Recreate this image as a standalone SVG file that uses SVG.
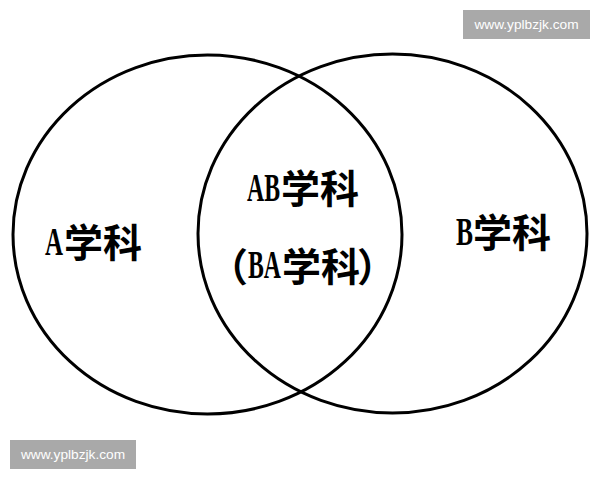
<svg xmlns="http://www.w3.org/2000/svg" width="600" height="480" viewBox="0 0 600 480">
<style>
.ring{fill:none;stroke:#000;stroke-width:3}
.lat{font-family:"Liberation Serif","Times New Roman",serif;font-size:41px;font-weight:bold;fill:#000}
.cjk{font-family:"Noto Sans CJK SC","Noto Sans CJK JP",sans-serif;font-size:39px;font-weight:700;fill:#000}
.wm{fill:#a9a9a9}
.wmt{font-family:"Liberation Sans",Arial,sans-serif;font-size:13.7px;fill:#fff}
</style>
<rect width="600" height="480" fill="#fff"/>
<g id="circleA">
<ellipse class="ring" cx="207.5" cy="234.5" rx="194.5" ry="179.5"/>
<text><tspan class="lat" x="45" y="255" textLength="18" lengthAdjust="spacingAndGlyphs">A</tspan><tspan class="cjk" x="64" y="257">学科</tspan></text>
</g>
<g id="circleB">
<ellipse class="ring" cx="392.5" cy="233.5" rx="194.5" ry="179.5"/>
<text><tspan class="lat" x="456" y="245" textLength="17" lengthAdjust="spacingAndGlyphs">B</tspan><tspan class="cjk" x="473" y="247">学科</tspan></text>
</g>
<g id="overlap">
<text><tspan class="lat" x="247" y="201" textLength="33" lengthAdjust="spacingAndGlyphs">AB</tspan><tspan class="cjk" x="281" y="203">学科</tspan></text>
<text><tspan class="cjk" x="248" y="281" text-anchor="end">（</tspan><tspan class="lat" x="248" y="278" textLength="33" lengthAdjust="spacingAndGlyphs">BA</tspan><tspan class="cjk" x="282" y="281">学科</tspan><tspan class="cjk" x="357" y="281">）</tspan></text>
</g>
<g id="connectors"></g>
<g id="watermark-top">
<rect class="wm" x="463" y="10" width="127" height="29"/>
<text class="wmt" x="526.5" y="29" text-anchor="middle">www.yplbzjk.com</text>
</g>
<g id="watermark-bottom">
<rect class="wm" x="10" y="440" width="126" height="29"/>
<text class="wmt" x="73" y="459" text-anchor="middle">www.yplbzjk.com</text>
</g>
</svg>
